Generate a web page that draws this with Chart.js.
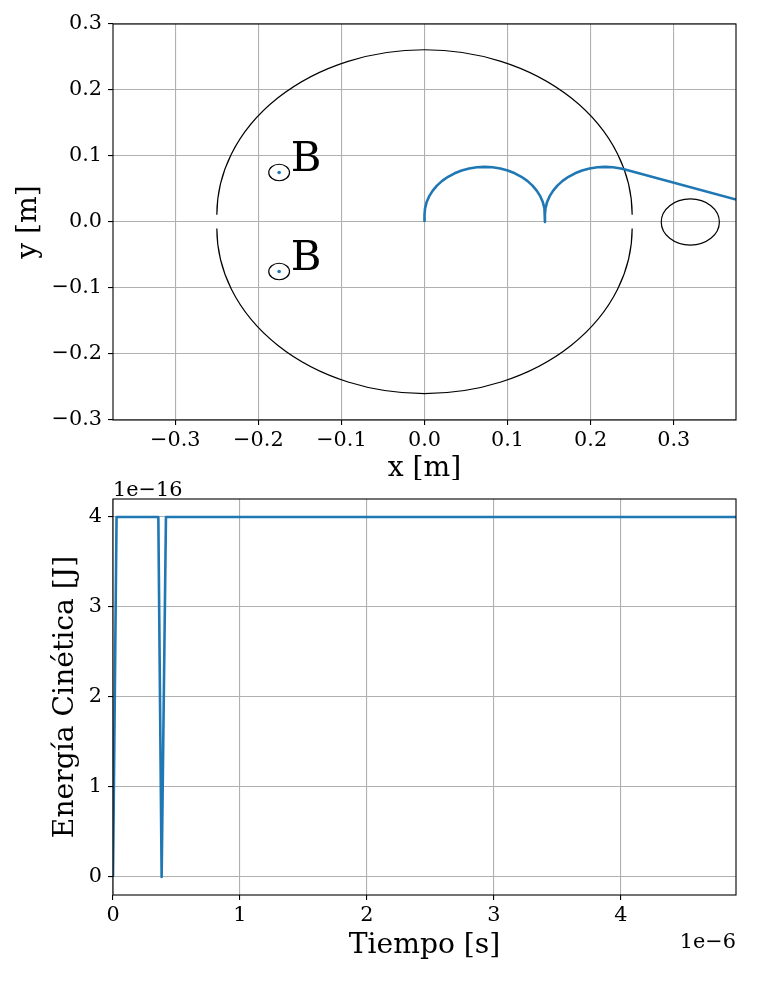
<!DOCTYPE html>
<html>
<head>
<meta charset="utf-8">
<script src="https://cdn.jsdelivr.net/npm/chart.js@4.4.1/dist/chart.umd.min.js"></script>
<style>
  html, body { margin: 0; padding: 0; background: #fff; }
  #wrap { position: relative; width: 764px; height: 1006px; background: #fff; }
  canvas { position: absolute; left: 0; }
  #c1 { top: 0; }
  #c2 { top: 480px; }
</style>
</head>
<body>
<div id="wrap">
  <canvas id="c1" width="764" height="480"></canvas>
  <canvas id="c2" width="764" height="526"></canvas>
</div>
<script>
// ---------- Top panel data (metres) ----------
const trayX = [0,
  0, 0.00062, 0.00247, 0.00552, 0.00971, 0.01498, 0.02123, 0.02836, 0.03625, 0.04476, 0.05374, 0.06304, 0.0725,
  0.08196, 0.09126, 0.10024, 0.10875, 0.11664, 0.12377, 0.13002, 0.13529, 0.13948, 0.14253, 0.14438, 0.145,
  0.145,
  0.145, 0.14562, 0.14747, 0.15052, 0.15471, 0.15998, 0.16623, 0.17336, 0.18125, 0.18976, 0.19874, 0.20804, 0.2175,
  0.22696, 0.23626, 0.2403,
  0.375];
const trayY = [0,
  0.011, 0.02046, 0.02976, 0.03874, 0.04725, 0.05514, 0.06227, 0.06852, 0.07379, 0.07798, 0.08103, 0.08288, 0.0835,
  0.08288, 0.08103, 0.07798, 0.07379, 0.06852, 0.06227, 0.05514, 0.04725, 0.03874, 0.02976, 0.02046, 0.011,
  0.0,
  0.011, 0.02046, 0.02976, 0.03874, 0.04725, 0.05514, 0.06227, 0.06852, 0.07379, 0.07798, 0.08103, 0.08288, 0.0835,
  0.08288, 0.08103, 0.0798,
  0.034];
const deeCenterY = [0.011, -0.010];   // upper dee, lower dee
const deeRadius = [0.25, 0.25];
const circleX = [-0.175, -0.175, 0.32];
const circleY = [0.075, -0.075, 0.0];
const circleR = [0.0125, 0.0125, 0.035];
const dotX = [-0.175, -0.175];
const dotY = [0.075, -0.075];
const labelText = ['B', 'B'];
const labelX = [-0.161, -0.161];
const labelY = [0.077, -0.073];
const xTicksTop = [-0.3, -0.2, -0.1, 0.0, 0.1, 0.2, 0.3];
const yTicksTop = [-0.3, -0.2, -0.1, 0.0, 0.1, 0.2, 0.3];

// ---------- Bottom panel data ----------
const tiempo  = [0, 0.028, 0.357, 0.383, 0.417, 4.906];   // x 1e-6 s
const energia = [0, 4.0, 4.0, 0.0, 4.0, 4.0];             // x 1e-16 J
const xTicksBottom = [0, 1, 2, 3, 4];
const yTicksBottom = [0, 1, 2, 3, 4];

const FONT = "'DejaVu Serif', 'Liberation Serif', serif";
Chart.defaults.font.family = FONT;
Chart.defaults.color = '#000';

const BLUE = '#1f77b4';
const GRID = '#b0b0b0';
const TICK_FONT = { family: FONT, size: 20.8 };
const LABEL_FONT = { family: FONT, size: 28.2, lineHeight: 1 };

const minus = s => s.replace('-', '\u2212');
const fmt1 = v => Math.abs(v) < 1e-9 ? '0.0' : minus(v.toFixed(1));
const fmt0 = v => Math.abs(v) < 1e-9 ? '0' : minus(String(Math.round(v)));

function setTicks(arr) {
  return function (scale) { scale.ticks = arr.map(v => ({ value: v })); };
}

const spinePlugin = {
  id: 'spines',
  afterDraw(chart) {
    const { ctx, chartArea: a } = chart;
    ctx.save();
    ctx.strokeStyle = '#000';
    ctx.lineWidth = 1.1;
    ctx.strokeRect(a.left, a.top, a.right - a.left, a.bottom - a.top);
    ctx.restore();
  }
};

const shapesPlugin = {
  id: 'shapes',
  beforeDatasetsDraw(chart) {
    const { ctx, chartArea: a, scales: { x, y } } = chart;
    const pxX = r => Math.abs(x.getPixelForValue(r) - x.getPixelForValue(0));
    const pxY = r => Math.abs(y.getPixelForValue(r) - y.getPixelForValue(0));
    ctx.save();
    ctx.beginPath();
    ctx.rect(a.left, a.top, a.right - a.left, a.bottom - a.top);
    ctx.clip();
    ctx.strokeStyle = '#000';
    ctx.lineWidth = 1.2;
    deeCenterY.forEach((cy, i) => {
      ctx.beginPath();
      const start = i === 0 ? Math.PI : 0;
      ctx.ellipse(x.getPixelForValue(0), y.getPixelForValue(cy), pxX(deeRadius[i]), pxY(deeRadius[i]), 0, start, start + Math.PI);
      ctx.stroke();
    });
    circleX.forEach((cx, i) => {
      ctx.beginPath();
      ctx.ellipse(x.getPixelForValue(cx), y.getPixelForValue(circleY[i]), pxX(circleR[i]), pxY(circleR[i]), 0, 0, 2 * Math.PI);
      ctx.stroke();
    });
    ctx.restore();
  },
  afterDatasetsDraw(chart) {
    const { ctx, scales: { x, y } } = chart;
    ctx.save();
    ctx.fillStyle = '#000';
    ctx.font = "41.7px " + FONT;
    ctx.textAlign = 'left';
    ctx.textBaseline = 'alphabetic';
    labelText.forEach((t, i) => {
      ctx.fillText(t, x.getPixelForValue(labelX[i]), y.getPixelForValue(labelY[i]));
    });
    ctx.restore();
  }
};

const offsetPlugin = {
  id: 'offsetText',
  afterDraw(chart) {
    const { ctx, chartArea: a } = chart;
    ctx.save();
    ctx.fillStyle = '#000';
    ctx.font = "20.8px " + FONT;
    ctx.textBaseline = 'alphabetic';
    ctx.textAlign = 'left';
    ctx.fillText('1e\u221216', a.left, 16);
    ctx.textAlign = 'right';
    ctx.fillText('1e\u22126', a.right, 468);
    ctx.restore();
  }
};

function axisCommon() {
  return {
    type: 'linear',
    grid: { color: GRID, lineWidth: 1.1, tickColor: '#000', tickLength: 5, tickWidth: 1.1, drawTicks: true },
    border: { display: false },
  };
}

// ---------- Top chart ----------
new Chart(document.getElementById('c1'), {
  type: 'line',
  data: {
    datasets: [
      {
        data: trayX.map((v, i) => ({ x: v, y: trayY[i] })),
        borderColor: BLUE, borderWidth: 2.6, pointRadius: 0, tension: 0, fill: false,
        borderJoinStyle: 'round', order: 2
      },
      {
        data: dotX.map((v, i) => ({ x: v, y: dotY[i] })),
        showLine: false, pointRadius: 1.8, pointBorderWidth: 0,
        pointBackgroundColor: BLUE, borderColor: BLUE, order: 1
      }
    ]
  },
  options: {
    responsive: false, animation: false, devicePixelRatio: 1,
    layout: { padding: { left: 0, right: 28, top: 24, bottom: 0 } },
    plugins: { legend: { display: false }, tooltip: { enabled: false } },
    scales: {
      x: Object.assign(axisCommon(), {
        min: -0.375, max: 0.375,
        afterBuildTicks: setTicks(xTicksTop),
        afterFit: s => { s.height = 60; },
        ticks: { font: TICK_FONT, padding: 3, maxRotation: 0, autoSkip: false, callback: fmt1 },
        title: { display: true, text: 'x [m]', font: LABEL_FONT, padding: { top: 0, bottom: -3 } }
      }),
      y: Object.assign(axisCommon(), {
        min: -0.3, max: 0.3,
        afterBuildTicks: setTicks(yTicksTop),
        afterFit: s => { s.width = 113; },
        ticks: { font: TICK_FONT, padding: 6, autoSkip: false, callback: fmt1 },
        title: { display: true, text: 'y [m]', font: LABEL_FONT, padding: { top: 15, bottom: 0 } }
      })
    }
  },
  plugins: [shapesPlugin, spinePlugin]
});

// ---------- Bottom chart ----------
new Chart(document.getElementById('c2'), {
  type: 'line',
  data: {
    datasets: [{
      data: tiempo.map((v, i) => ({ x: v, y: energia[i] })),
      borderColor: BLUE, borderWidth: 2.6, pointRadius: 0, tension: 0, fill: false,
      borderJoinStyle: 'round'
    }]
  },
  options: {
    responsive: false, animation: false, devicePixelRatio: 1,
    layout: { padding: { left: 0, right: 28, top: 19, bottom: 0 } },
    plugins: { legend: { display: false }, tooltip: { enabled: false } },
    scales: {
      x: Object.assign(axisCommon(), {
        min: 0, max: 4.906,
        afterBuildTicks: setTicks(xTicksBottom),
        afterFit: s => { s.height = 111; },
        ticks: { font: TICK_FONT, padding: 3, maxRotation: 0, autoSkip: false, callback: fmt0 },
        title: { display: true, text: 'Tiempo [s]', font: LABEL_FONT, padding: { top: 0, bottom: 46 } }
      }),
      y: Object.assign(axisCommon(), {
        min: -0.2, max: 4.2,
        afterBuildTicks: setTicks(yTicksBottom),
        afterFit: s => { s.width = 113; },
        ticks: { font: TICK_FONT, padding: 6, autoSkip: false, callback: fmt0 },
        title: { display: true, text: 'Energía Cinética [J]', font: LABEL_FONT, padding: { top: 52, bottom: 0 } }
      })
    }
  },
  plugins: [offsetPlugin, spinePlugin]
});
</script>
</body>
</html>
